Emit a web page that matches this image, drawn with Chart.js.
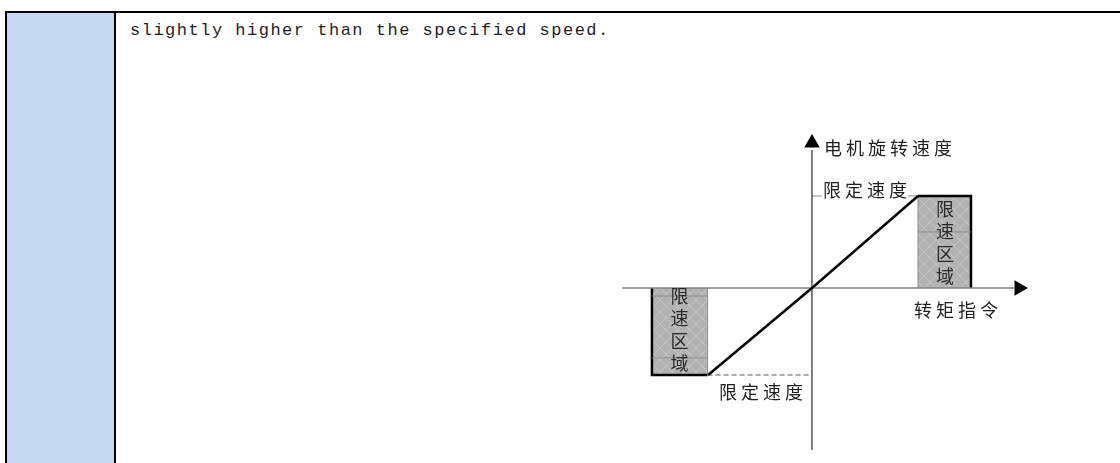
<!DOCTYPE html>
<html>
<head>
<meta charset="utf-8">
<script src="https://cdn.jsdelivr.net/npm/chart.js@4.4.1/dist/chart.umd.min.js"></script>
<style>
    body { margin: 0; background: #fff; width: 1120px; height: 463px; overflow: hidden; position: relative; }
    .borda-topo { position: absolute; left: 5px; top: 11px; width: 1115px; height: 2px; background: #000; }
    .coluna-azul { position: absolute; left: 5px; top: 11px; width: 107px; height: 460px; background: #c6d9f0;
                   border-left: 2px solid #000; border-right: 2px solid #000; }
    .texto { position: absolute; left: 130px; top: 21px; font: 17px "Liberation Mono", monospace; line-height: 20px;
             letter-spacing: 1.5px; color: #1e1e1e; white-space: nowrap; }
    .area-grafico { position: absolute; left: 600px; top: 120px; width: 460px; height: 340px; }
</style>
</head>
<body>
<div class="coluna-azul"></div>
<div class="borda-topo"></div>
<div class="texto">slightly higher than the specified speed.</div>
<div class="area-grafico"><canvas id="grafico" width="460" height="340"></canvas></div>

<script>
// curva torque x velocidade (unidades: 1 = limite)
const torque = [-0.98, 0, 1];
const velocidade = [-0.946, 0, 1];

// eixos
const eixoTorqueX = [-1.79, 1.906];
const eixoVelocidadeY = [-1.76, 1.5];
const setaTorque = { x: 1.953, y: 0 };
const setaVelocidade = { x: 0, y: 1.576 };

// zonas de limite de velocidade
const zonaDireitaX = [1, 1, 1.5, 1.5];
const zonaDireitaY = [0, 1, 1, 0];
const zonaEsquerdaX = [-1.51, -1.51, -0.985, -0.985];
const zonaEsquerdaY = [0, -0.946, -0.946, 0];
const divisoesDireita = [0.609];
const divisoesEsquerda = [-0.087, -0.76];

// linhas do limite
const limiteInferiorX = [-0.985, 0];
const limiteInferiorY = -0.946;
const limiteSuperiorX = [0, 1];
const limiteSuperiorY = 1;

const textos = [
    { texto: '电机旋转速度', x: 0.113, y: 1.522 },
    { texto: '限定速度', x: 0.104, y: 1.065, fundo: true },
    { texto: '转矩指令', x: 0.962, y: -0.239 },
    { texto: '限定速度', x: -0.877, y: -1.13 }
];
const textosZona = [
    { texto: '限速区域', x: 1.255, y: 0.859 },
    { texto: '限速区域', x: -1.25, y: -0.087 }
];

function pontos(xs, ys) {
    let lista = [];
    for (let i = 0; i < xs.length; i++) {
        lista.push({ x: xs[i], y: ys[i] });
    }
    return lista;
}

function criarHachura() {
    const c = document.createElement('canvas');
    c.width = 12;
    c.height = 12;
    const g = c.getContext('2d');
    g.fillStyle = '#b2b2b2';
    g.fillRect(0, 0, 12, 12);
    g.strokeStyle = 'rgba(215,215,215,0.45)';
    g.lineWidth = 1;
    g.beginPath();
    g.moveTo(0, 0); g.lineTo(12, 12);
    g.moveTo(12, 0); g.lineTo(0, 12);
    g.stroke();
    return g.createPattern(c, 'repeat');
}

const hachura = criarHachura();

function linhaSimples(dados, cor, largura, ordem, tracejado) {
    return {
        data: dados,
        showLine: true,
        borderColor: cor,
        borderWidth: largura,
        borderDash: tracejado || [],
        pointRadius: 0,
        fill: false,
        clip: false,
        order: ordem
    };
}

let datasets = [];

datasets.push(linhaSimples(pontos(torque, velocidade), '#000', 2.5, 0));

datasets.push({
    data: [setaTorque],
    pointStyle: 'triangle',
    rotation: 90,
    pointRadius: 9,
    backgroundColor: '#000',
    borderColor: '#000',
    borderWidth: 0,
    clip: false,
    order: 1
});
datasets.push({
    data: [setaVelocidade],
    pointStyle: 'triangle',
    rotation: 0,
    pointRadius: 9,
    backgroundColor: '#000',
    borderColor: '#000',
    borderWidth: 0,
    clip: false,
    order: 1
});

datasets.push(linhaSimples(pontos(eixoTorqueX, [0, 0]), '#808080', 1.5, 2));
datasets.push(linhaSimples(pontos([0, 0], eixoVelocidadeY), '#000', 1, 2));

datasets.push(linhaSimples(pontos(limiteInferiorX, [limiteInferiorY, limiteInferiorY]), '#8c8c8c', 1.5, 3, [5, 3]));
datasets.push(linhaSimples(pontos(limiteSuperiorX, [limiteSuperiorY, limiteSuperiorY]), '#8c8c8c', 1, 3));

for (let i = 0; i < divisoesDireita.length; i++) {
    datasets.push(linhaSimples(pontos([zonaDireitaX[0], zonaDireitaX[2]], [divisoesDireita[i], divisoesDireita[i]]), '#8a8a8a', 1, 4));
}
for (let i = 0; i < divisoesEsquerda.length; i++) {
    datasets.push(linhaSimples(pontos([zonaEsquerdaX[0], zonaEsquerdaX[2]], [divisoesEsquerda[i], divisoesEsquerda[i]]), '#8a8a8a', 1, 4));
}

datasets.push({
    data: pontos(zonaDireitaX, zonaDireitaY),
    showLine: true,
    pointRadius: 0,
    fill: 'origin',
    backgroundColor: hachura,
    borderColor: '#000',
    borderWidth: 2.5,
    clip: false,
    order: 5,
    segment: {
        borderColor: ctx => ctx.p0DataIndex === 0 ? '#8c8c8c' : '#000',
        borderWidth: ctx => ctx.p0DataIndex === 0 ? 1 : 2.5
    }
});
datasets.push({
    data: pontos(zonaEsquerdaX, zonaEsquerdaY),
    showLine: true,
    pointRadius: 0,
    fill: 'origin',
    backgroundColor: hachura,
    borderColor: '#000',
    borderWidth: 2.5,
    clip: false,
    order: 5,
    segment: {
        borderColor: ctx => ctx.p0DataIndex === 2 ? '#8c8c8c' : '#000',
        borderWidth: ctx => ctx.p0DataIndex === 2 ? 1 : 2.5
    }
});

const PASSO = 22;
const PASSO_VERTICAL = 22.5;

const pluginTextos = {
    id: 'textos',
    afterDatasetsDraw(chart) {
        const ctx = chart.ctx;
        const sx = chart.scales.x;
        const sy = chart.scales.y;
        ctx.save();
        ctx.font = '18px "Noto Sans CJK SC", sans-serif';
        ctx.textBaseline = 'middle';

        for (let t of textos) {
            const px = sx.getPixelForValue(t.x);
            const py = sy.getPixelForValue(t.y);
            const n = t.texto.length;
            if (t.fundo) {
                ctx.fillStyle = '#fff';
                ctx.fillRect(px - 1, py - 9, (n - 1) * PASSO + 20, 17);
            }
            ctx.fillStyle = '#1e1e1e';
            ctx.textAlign = 'left';
            for (let i = 0; i < n; i++) {
                ctx.fillText(t.texto[i], px + i * PASSO, py);
            }
        }

        ctx.fillStyle = '#2a2a2a';
        ctx.textAlign = 'center';
        for (let t of textosZona) {
            const px = sx.getPixelForValue(t.x);
            const py = sy.getPixelForValue(t.y);
            for (let i = 0; i < t.texto.length; i++) {
                ctx.fillText(t.texto[i], px, py + i * PASSO_VERTICAL);
            }
        }
        ctx.restore();
    }
};

new Chart(document.getElementById('grafico'), {
    type: 'scatter',
    data: { datasets: datasets },
    options: {
        responsive: false,
        animation: false,
        events: [],
        layout: { padding: 0, autoPadding: false },
        plugins: { legend: { display: false }, tooltip: { enabled: false } },
        scales: {
            x: { type: 'linear', display: false, min: -2, max: 2.34 },
            y: { type: 'linear', display: false, min: -1.87, max: 1.826 }
        }
    },
    plugins: [pluginTextos]
});
</script>
</body>
</html>
